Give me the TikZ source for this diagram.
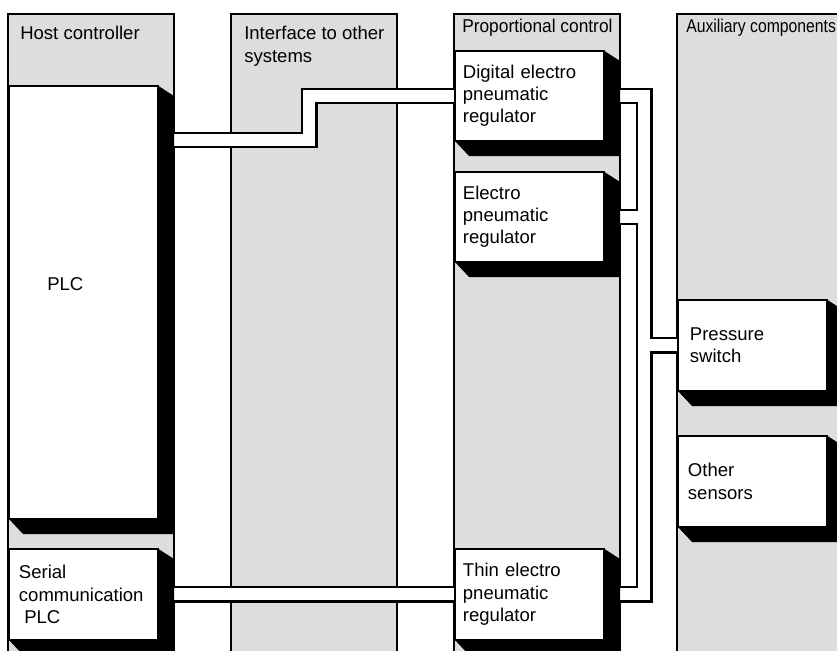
\documentclass[tikz,border=0pt]{standalone}
\usepackage{fontspec}
\setmainfont{Liberation Sans}
\usetikzlibrary{calc}
\definecolor{panelgray}{RGB}{220,221,221}
\pgfdeclarelayer{bg}
\pgfdeclarelayer{pipes}
\pgfsetlayers{bg,pipes,main}
\tikzset{
  panel/.style={fill=panelgray,draw=black,line width=1.4pt},
  boxtext/.style={font=\fontsize{13.9pt}{16.7pt}\selectfont},
  regbox/.style={draw=black,fill=white,line width=1.4pt,anchor=north west,inner ysep=0pt,align=left,boxtext},
  shadowst/.style={fill=black},
  hdr/.style={anchor=base west,inner sep=0pt,boxtext},
  pipeouter/.style={draw=black,line width=12.3pt,line join=miter},
  pipeinner/.style={draw=white,line width=9pt,line join=miter},
}
\newcommand\shbox[7]{%
  \fill[shadowst] (#4,#3) -- (#4+17,#3+11) -- (#4+17,#5+16) -- (#2+15,#5+16) -- (#2,#5) -- cycle;
  \pgfmathsetmacro\shtw{(#4-#2-2*#6)*0.75}%
  \pgfmathsetmacro\shmh{(#5-#3)*0.75}%
  \pgfmathsetmacro\shpad{#6*0.75}%
  \node[regbox,inner xsep=\shpad pt,text width=\shtw pt,minimum height=\shmh pt] (#1) at (#2,#3) {#7};
}
\newcommand\pipepaths[1]{%
  \draw[#1] ($(plc.north east)+(0,55)$) -- ++(150.5,0) |- (dig.west);
  \draw[#1] (ser.east) -- (thin.west);
  \draw[#1] (dig.east) -| ($(thin.east)+(39.5,0)$) -- (thin.east);
  \draw[#1] (elec.east) -- ++(39.5,0);
  \draw[#1] (pres.west) -- ++(-34.5,0);
}
\begin{document}
\begin{tikzpicture}[x=0.75pt,y=-0.75pt]
\useasboundingbox (0,0) rectangle (837,650);
\begin{pgfonlayer}{bg}
\begin{scope}
\clip (0,0) rectangle (837,650);
\fill[white] (0,0) rectangle (837,650);
\draw[panel] (8,14) rectangle (174,700);
\draw[panel] (231,14) rectangle (397,700);
\draw[panel] (454,14) rectangle (620,700);
\draw[panel] (677,14) rectangle (843,700);
\end{scope}
\end{pgfonlayer}
\begin{scope}
\clip (0,0) rectangle (837,650);
\node[hdr] (h1) at (20,39.5) {Host controller};
\node[hdr] (h2a) at (244,39.5) {Interface to other};
\node[hdr] (h2b) at (244,62.5) {systems};
\node[hdr] (h3) at (462,32) {\scalebox{0.935}[1]{Proportional control}};
\node[hdr] (h4) at (686,32) {\scalebox{0.85}[1]{Auxiliary components}};
\shbox{plc}{8}{85}{157}{518}{10}{}
\node[hdr] (plctext) at (47,290) {PLC};
\shbox{ser}{8}{548}{157}{639}{10}{Serial\\communication\\\hspace*{4pt}PLC}
\shbox{dig}{454}{50}{603}{140}{8}{Digital electro\\pneumatic\\regulator}
\shbox{elec}{454}{171}{603}{261}{8}{Electro\\pneumatic\\regulator}
\shbox{thin}{454}{548}{603}{639}{8}{Thin electro\\pneumatic\\regulator}
\shbox{pres}{677}{299}{826}{390}{12}{Pressure\\switch}
\shbox{oth}{677}{435}{826}{526}{10}{Other\\sensors}
\end{scope}
\begin{pgfonlayer}{pipes}
\begin{scope}
\clip (0,0) rectangle (837,650);
\pipepaths{pipeouter}
\pipepaths{pipeinner}
\end{scope}
\end{pgfonlayer}
\end{tikzpicture}
\end{document}
